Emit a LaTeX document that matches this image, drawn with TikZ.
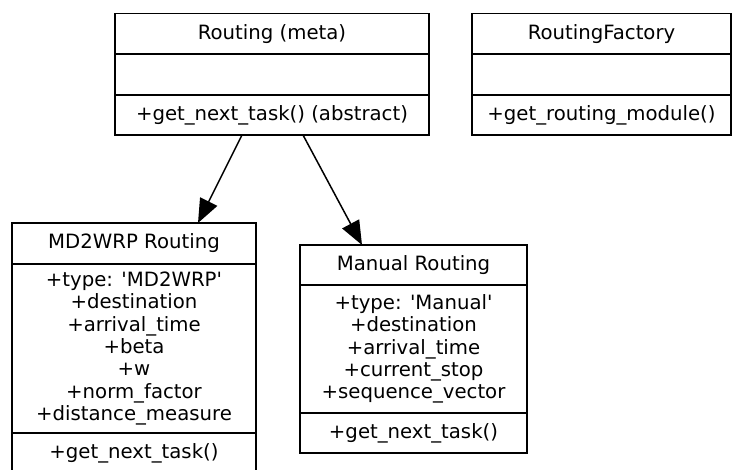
\documentclass[tikz,border=0pt]{standalone}
\usepackage{fontspec}
\setmainfont{DejaVu Sans}
\usetikzlibrary{arrows.meta,positioning}

\begin{document}
\begin{tikzpicture}[x=1pt,y=-1pt,
  part/.style={draw,line width=1.5pt,inner sep=0pt,outer sep=0pt,align=center,
    font=\fontsize{19.7}{22.3}\selectfont},
  inherit/.style={-{Triangle[length=24pt,width=19pt]},line width=1.5pt}]
\useasboundingbox (0,0) rectangle (732,470);
% abstract base class
\node[part,minimum width=314pt,minimum height=40.5pt] (routing) at (272,33.75) {Routing (meta)};
\node[part,minimum width=314pt,minimum height=41pt,below=0pt of routing] (routing-attr) {};
\node[part,minimum width=314pt,minimum height=40pt,below=0pt of routing-attr] (routing-ops) {+get\_next\_task() (abstract)};
% factory
\node[part,minimum width=259pt,minimum height=40.5pt] (factory) at (601.5,33.75) {RoutingFactory};
\node[part,minimum width=259pt,minimum height=41pt,below=0pt of factory] (factory-attr) {};
\node[part,minimum width=259pt,minimum height=40pt,below=0pt of factory-attr] (factory-ops) {+get\_routing\_module()};
% MD2WRP subclass
\node[part,minimum width=244pt,minimum height=41pt] (md) at (134,243.5) {MD2WRP Routing};
\node[part,minimum width=244pt,minimum height=169pt,below=0pt of md] (md-attr) {+type: \textquotesingle MD2WRP\textquotesingle\\+destination\\+arrival\_time\\+beta\\+w\\+norm\_factor\\+distance\_measure};
\node[part,minimum width=244pt,minimum height=40pt,below=0pt of md-attr] (md-ops) {+get\_next\_task()};
% manual subclass
\node[part,minimum width=227pt,minimum height=40pt] (manual) at (413.5,265) {Manual Routing};
\node[part,minimum width=227pt,minimum height=128pt,below=0pt of manual] (manual-attr) {+type: \textquotesingle Manual\textquotesingle\\+destination\\+arrival\_time\\+current\_stop\\+sequence\_vector};
\node[part,minimum width=227pt,minimum height=40pt,below=0pt of manual-attr] (manual-ops) {+get\_next\_task()};

\draw[inherit] ([xshift=-30pt]routing-ops.south) -- ([xshift=64pt]md.north);
\draw[inherit] ([xshift=31pt]routing-ops.south) -- ([xshift=-51.5pt]manual.north);
\end{tikzpicture}
\end{document}
